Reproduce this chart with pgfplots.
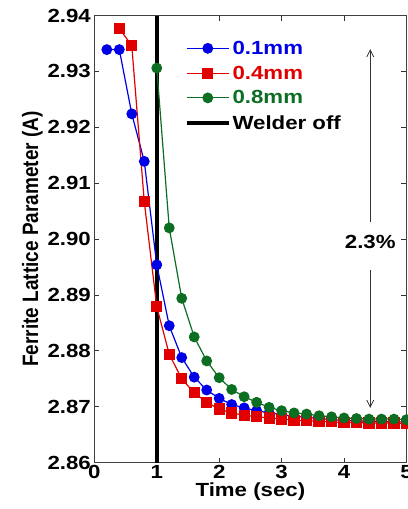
\documentclass[border=0pt]{standalone}
\usepackage{fontspec}
\setmainfont{Liberation Sans}[FakeStretch=1.17]
\newfontfamily\ylfont{Liberation Sans}
\usepackage{graphicx}
\usepackage{pgfplots}
\pgfplotsset{compat=1.18}
\usetikzlibrary{arrows.meta}

\definecolor{sblue}{RGB}{0,0,230}
\definecolor{sred}{RGB}{225,0,0}
\definecolor{sgreen}{RGB}{12,110,35}

\newcommand{\bigfont}{\fontsize{19}{22}\selectfont\bfseries}

\begin{document}
\begin{tikzpicture}
\begin{axis}[
    at={(0pt,0pt)}, anchor=south west,
    scale only axis,
    width=312pt, height=447pt,
    xmin=0, xmax=5, ymin=2.86, ymax=2.94,
    xtick={0,1,2,3,4,5},
    ytick={2.86,2.87,2.88,2.89,2.90,2.91,2.92,2.93,2.94},
    tick pos=both, tick align=inside,
    major tick length=5pt,
    tick style={black!80, line width=0.8pt},
    axis line style={black!75, line width=1pt},
    /pgf/number format/assume math mode=true,
    tick label style={font=\bigfont},
    yticklabel style={/pgf/number format/.cd, fixed, fixed zerofill, precision=2},
    xticklabel style={yshift=1pt},
    label style={font=\bigfont},
    xlabel={Time (sec)},
    xlabel style={yshift=3pt},
    ylabel={\ylfont\bfseries\scalebox{1}[1.17]{Ferrite Lattice Parameter (A)}},
    ylabel style={xshift=0pt, yshift=-2pt},
    legend style={draw=none, fill=none, font=\bigfont,
        at={(axis description cs:0.29,0.948)}, anchor=north west,
        inner sep=0pt, row sep=6pt},
    legend cell align=left,
    legend image code/.code={\draw[mark repeat=2,mark phase=2]
        plot coordinates {(0pt,0pt) (21pt,0pt) (42pt,0pt)};},
]
\addplot[black, line width=3.5pt, forget plot] coordinates {(1,2.86) (1,2.94)};

\addplot[sblue, line width=1.2pt, mark=*, mark size=4.8pt] coordinates {
(0.2,2.9339) (0.4,2.9339) (0.6,2.9224) (0.8,2.9139) (1.0,2.8954)
(1.2,2.8845) (1.4,2.8788) (1.6,2.8753) (1.8,2.8730) (2.0,2.8715)
(2.2,2.8704) (2.4,2.8698) (2.6,2.8693) (2.8,2.8689) (3.0,2.8686)
(3.2,2.8683) (3.4,2.8681) (3.6,2.8679) (3.8,2.8677) (4.0,2.8676)
(4.2,2.8675) (4.4,2.8674) (4.6,2.8674) (4.8,2.8673) (5.0,2.8673)};
\addlegendentry{\textcolor{sblue}{0.1mm}}

\addplot[sred, line width=1.2pt, mark=square*, mark size=5pt] coordinates {
(0.4,2.9377) (0.6,2.9346) (0.8,2.9067) (1.0,2.8879) (1.2,2.8794)
(1.4,2.8750) (1.6,2.8725) (1.8,2.8708) (2.0,2.8696) (2.2,2.8689)
(2.4,2.8685) (2.6,2.8682) (2.8,2.8680) (3.0,2.8678) (3.2,2.8676)
(3.4,2.8675) (3.6,2.8674) (3.8,2.8673) (4.0,2.8672) (4.2,2.8672)
(4.4,2.8671) (4.6,2.8671) (4.8,2.8671) (5.0,2.8670)};
\addlegendentry{\textcolor{sred}{0.4mm}}

\addplot[sgreen, line width=1.2pt, mark=*, mark size=4.8pt] coordinates {
(1.0,2.9306) (1.2,2.9020) (1.4,2.8894) (1.6,2.8825) (1.8,2.8782)
(2.0,2.8752) (2.2,2.8731) (2.4,2.8718) (2.6,2.8708) (2.8,2.8699)
(3.0,2.8693) (3.2,2.8689) (3.4,2.8687) (3.6,2.8684) (3.8,2.8682)
(4.0,2.8680) (4.2,2.8679) (4.4,2.8678) (4.6,2.8678) (4.8,2.8678)
(5.0,2.8677)};
\addlegendentry{\textcolor{sgreen}{0.8mm}}

\addlegendimage{black, line width=3.5pt}
\addlegendentry{Welder off}

\draw[black!80, line width=0.8pt, -{Straight Barb[length=7pt,width=7pt]}]
    (axis cs:4.42,2.9031) -- (axis cs:4.42,2.9340);
\draw[black!80, line width=0.8pt, -{Straight Barb[length=7pt,width=7pt]}]
    (axis cs:4.42,2.8945) -- (axis cs:4.42,2.8698);
\node[font=\bigfont, text=black] at (axis cs:4.42,2.8994) {2.3\%};
\end{axis}
\pgfresetboundingbox
\useasboundingbox (-94.3pt,-46.3pt) rectangle (312.7pt,462.5pt);
\end{tikzpicture}
\end{document}
